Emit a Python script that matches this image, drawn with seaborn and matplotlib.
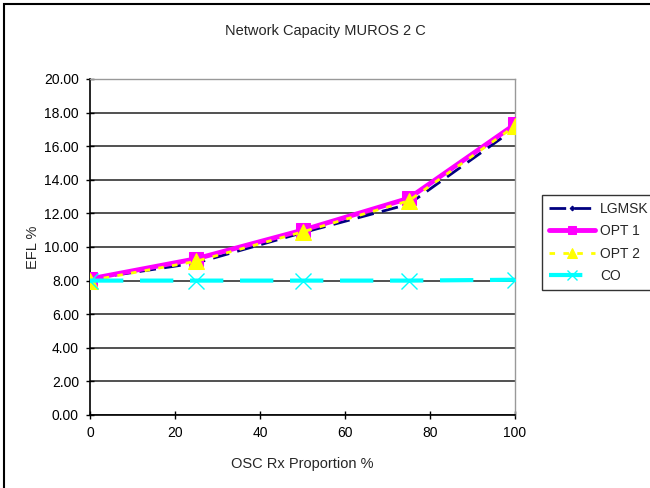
import matplotlib
matplotlib.use("Agg")
import matplotlib.pyplot as plt
import seaborn as sns
from matplotlib.patches import Rectangle

# data
osc_rx = [0, 25, 50, 75, 100]
lgmsk = [8.1, 9.05, 10.85, 12.55, 17.05]
opt1 = [8.1, 9.3, 11.0, 12.9, 17.3]
opt2 = [8.0, 9.15, 10.9, 12.75, 17.2]
co = [8.0, 8.0, 8.0, 8.0, 8.05]

x_ticks = [0, 20, 40, 60, 80, 100]
y_ticks = [0, 2, 4, 6, 8, 10, 12, 14, 16, 18, 20]

sns.set_style("white")
plt.rcParams["font.family"] = ["Liberation Sans", "DejaVu Sans"]

fig = plt.figure(figsize=(6.5, 4.88), dpi=100)
ax = fig.add_axes([90 / 650, 1 - 415 / 488, 425 / 650, 336 / 488])

sns.lineplot(x=osc_rx, y=lgmsk, ax=ax, color="#000080", linewidth=2,
             linestyle=(0, (6, 3)), marker="D", markersize=4,
             markeredgecolor="#000080", label="LGMSK", zorder=3)
sns.lineplot(x=osc_rx, y=opt1, ax=ax, color="#ff00ff", linewidth=3.5,
             marker="s", markersize=10, markeredgecolor="#ff00ff",
             label="OPT 1", zorder=4)
sns.lineplot(x=osc_rx, y=opt2, ax=ax, color="#ffff00", linewidth=2,
             linestyle=(0, (2, 3)), marker="^", markersize=11,
             markeredgecolor="#ffff00", label="OPT 2", zorder=5)
sns.lineplot(x=osc_rx, y=co, ax=ax, color="#00ffff", linewidth=3,
             linestyle=(0, (8, 4)), marker="x", markersize=11,
             markeredgewidth=1, markeredgecolor="#00ffff",
             label="CO", zorder=6)

ax.set_xlim(0, 100)
ax.set_ylim(0, 20)
ax.set_xticks(x_ticks)
ax.set_yticks(y_ticks)
ax.set_yticklabels([f"{v:.2f}" for v in y_ticks])
ax.tick_params(direction="inout", length=6, width=1, labelsize=10,
               colors="black", left=True, bottom=True, pad=5)
ax.yaxis.grid(True, color="#333333", linewidth=1.2)
ax.xaxis.grid(False)
ax.set_axisbelow(True)
for side in ["left", "bottom"]:
    ax.spines[side].set_color("black")
    ax.spines[side].set_linewidth(1.2)
for side in ["top", "right"]:
    ax.spines[side].set_color("#999999")
    ax.spines[side].set_linewidth(1)

ax.set_xlabel("OSC Rx Proportion %", fontsize=10.5, labelpad=12)
ax.set_ylabel("EFL %", fontsize=10.5, labelpad=3)
fig.text(0.5, 1 - 31 / 488, "Network Capacity MUROS 2 C", ha="center",
         va="center", fontsize=10.5)

leg = ax.legend(loc="upper left", bbox_to_anchor=(542 / 650, 1 - 195 / 488),
                bbox_transform=fig.transFigure, fontsize=10, frameon=True,
                fancybox=False, edgecolor="black", handlelength=3.3,
                handletextpad=0.4, borderaxespad=0, labelspacing=0.6,
                borderpad=0.5, markerscale=0.6)
leg.get_frame().set_linewidth(1)

# outer chart frame (runs off the right and bottom of the image)
fig.patches.append(Rectangle((4 / 650, -0.05), 1.0, 1 - 4 / 488 + 0.05,
                             transform=fig.transFigure, fill=False,
                             edgecolor="black", linewidth=1.5))

fig.savefig("out.png", dpi=100)
